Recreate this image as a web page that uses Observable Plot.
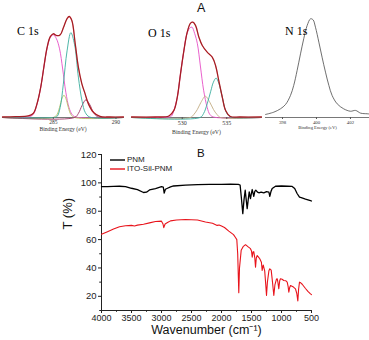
<!DOCTYPE html>
<html><head><meta charset="utf-8">
<script src="https://cdn.jsdelivr.net/npm/d3@7"></script>
<script src="https://cdn.jsdelivr.net/npm/@observablehq/plot@0.6"></script>
<style>
html,body{margin:0;padding:0;background:#fff;}
#fig{position:relative;width:369px;height:340px;overflow:hidden;font-family:"Liberation Sans",Arial,sans-serif;}
#fig svg{position:absolute;}
.lbl{position:absolute;line-height:1;white-space:nowrap;}
.serif{font-family:"Liberation Serif","Times New Roman",serif;}
</style></head><body><div id="fig"></div>
<script>
// ---------- Panel A: XPS (binding energy eV, intensity a.u.) ----------
const c1sEnvE = [280.95,282.0,283.0,283.4,283.7,284.0,284.25,284.5,284.76,285.0,285.29,285.56,285.82,286.09,286.27,286.48,286.75,287.0,287.28,287.54,287.8,288.2,288.73,289.5,290.6];
const c1sEnvI = [0.5,0.8,1.5,4,13.5,30,50,69,80,82.9,81,82,89.4,97.7,100,96,73,49.8,33.3,23.4,13.5,5.2,1,0.5,0.5];
const c1sPinkE = [280.95,283.0,283.4,283.7,284.0,284.25,284.5,284.75,285.0,285.25,285.5,285.75,286.0,286.25,286.5,286.8,290.6];
const c1sPinkI = [0,0.5,3,13,30,50,68,79,82,78,68,48,25,10,3,0.5,0];
const c1sTealE = [280.95,285.0,285.3,285.55,285.8,286.1,286.4,286.7,287.0,287.3,287.55,287.9,290.6];
const c1sTealI = [0,0,1,10,33,66,84,72,40,16,5,0.5,0];
const c1sGreenE = [280.95,285.0,285.3,285.5,285.7,285.85,286.0,286.2,286.4,286.7,290.6];
const c1sGreenI = [0,0,3,10,19,22,19,10,3,0,0];
const c1sMaroonE = [280.95,286.7,287.0,287.3,287.6,287.9,288.2,288.5,288.8,290.6];
const c1sMaroonI = [0,0,4,12,17.5,13,5,1,0,0];

const o1sEnvE = [524.3,527,528.5,529.06,529.44,529.8,530.18,530.56,530.93,531.2,531.5,531.87,532.25,532.8,533.37,533.74,534.1,534.5,534.87,535.4,536.5,538.9];
const o1sEnvI = [0.5,0.5,1.5,7,20,43,66,84.5,93.4,94.4,91,79.5,71.3,64.7,59.7,51.5,36.6,20,7,1,0.5,0.5];
const o1sPinkE = [524.3,528.5,528.8,529.06,529.44,529.8,530.18,530.56,530.9,531.1,531.4,531.7,532.05,532.4,532.8,533.1,533.5,538.9];
const o1sPinkI = [0,0.5,1.5,7,20,43,66,84,89,89.4,83,73,50,27,10,3,0.5,0];
const o1sOliveE = [524.3,530.9,531.3,531.7,532.1,532.6,533.1,533.5,533.9,534.3,538.9];
const o1sOliveI = [0,0,3,8,15,21,15,8,3,0,0];
const o1sTealE = [524.3,532.0,532.4,532.8,533.2,533.5,533.8,534.1,534.5,534.9,535.3,535.6,538.9];
const o1sTealI = [0,0,4,13.5,26,35,39,34,20,6,1,0,0];

const n1sE = [397.0,397.49,397.88,398.18,398.47,398.66,398.86,399.06,399.25,399.45,399.65,399.8,399.94,400.14,400.33,400.53,400.73,400.92,401.22,401.6,402.0,402.3,402.6,402.98,403.1];
const n1sI = [3,5.3,8.6,12.9,21.8,31.7,46.5,63,78,91,97.7,96.7,89.4,74.6,59.7,44.9,31.7,21.8,13.5,8.6,6.2,7,4.3,3.7,3.5];

const c1sTicks = [285, 290];
const o1sTicks = [530, 535];
const n1sTicks = [398, 400, 402];

// ---------- Panel B: FTIR ----------
const pnmWn = [4000,3900,3800,3700,3600,3500,3400,3300,3250,3200,3100,3000,2970,2955,2935,2900,2850,2800,2600,2400,2200,2000,1850,1720,1690,1670,1645,1625,1605,1588,1572,1555,1538,1517,1500,1488,1462,1445,1428,1400,1378,1340,1295,1250,1210,1195,1175,1155,1100,1000,900,822,780,740,700,683,600,517,500];
const pnmT  = [97.3,97.4,97.5,97.6,97.4,96.2,95.2,93.2,93.4,95.0,96.0,97.3,97.0,92.8,95.5,96.2,97.2,97.8,98.4,98.7,98.9,99.0,99.1,99.0,98.5,90,78.3,88,94.8,88,81.8,88,93.6,88.9,93,95.3,90.5,94,94.8,93.5,93,93.5,93,93.8,93.5,90.5,94,96,97.6,97.8,97.6,97.5,96,92.5,90,89.8,88.6,87.5,87.2];
const silWn = [4000,3900,3800,3700,3600,3500,3450,3400,3300,3200,3100,3000,2975,2962,2940,2900,2850,2750,2600,2400,2267,2150,2072,2040,2000,1950,1878,1800,1767,1745,1730,1712,1700,1672,1640,1600,1560,1517,1500,1488,1475,1462,1445,1433,1420,1405,1380,1362,1335,1322,1305,1280,1262,1250,1235,1210,1195,1172,1150,1128,1110,1085,1072,1060,1045,1030,1017,990,962,930,905,890,878,865,850,800,767,745,728,715,700,680,655,600,560,517,500];
const silT  = [63.7,65.6,67.5,69.0,69.8,70.0,69.6,70.2,70.8,71.8,72.8,73.0,71,68.4,71,72.0,73.2,73.8,74.2,73.8,72.4,71.5,70.0,70.3,69.5,68.5,66.0,63.5,61.5,60,50,22.5,40,52.4,55,56.4,55,53.6,52,47.6,51.2,51.5,47,40.6,47,48.8,47.5,46.5,44,38.2,42.1,38,28,20.6,30,38,39.4,38.5,30,20.6,28,32,32.4,30,25.3,31,32.4,32,31.2,31,30,27,22.9,26,27.6,26.5,25.3,22,16.8,25,30,29.5,28.5,25.5,23.5,21.7,21.2];
const irXTicks = [4000,3500,3000,2500,2000,1500,1000,500];
const irYTicks = [20,40,60,80,100,120];
const seriesNames = ["PNM","ITO-Sil-PNM"];

const fig = document.getElementById("fig");
const pts = (xs, ys) => xs.map((x, i) => ({x, y: ys[i]}));

function xps({left, width, domain, ticks, series, tickFont, titleFont, titleDy}) {
  const marks = [
    Plot.ruleY([0], {stroke: "#555", strokeWidth: 0.8}),
    ...series.map(s => Plot.line(pts(s.x, s.y), {x: "x", y: "y", stroke: s.color, strokeWidth: s.w || 0.9, strokeOpacity: s.o || 1, curve: "catmull-rom"})),
    Plot.axisX({ticks, tickSize: 2, tickPadding: 1, fontSize: tickFont, fill: "#333", stroke: "#555", tickFormat: d => String(d), label: null}),
    Plot.text(["Binding Energy (eV)"], {text: d => d, frameAnchor: "bottom", dy: titleDy, fontSize: titleFont, fill: "#333"})
  ];
  const svg = Plot.plot({
    width, height: 136, marginTop: 16, marginBottom: 19, marginLeft: 0, marginRight: 0,
    x: {domain}, y: {domain: [0, 100], axis: null},
    style: {position: "absolute", left: left + "px", top: "0px", background: "transparent", fontFamily: "Liberation Serif", overflow: "visible"},
    marks
  });
  fig.appendChild(svg);
}

const PINK = "#e64fc6", TEAL = "#3aae9e", RED = "#c8242c", DARK = "#3a1414";
xps({left: 2, width: 121, domain: [280.95, 290.6], ticks: c1sTicks, tickFont: 5.5, titleFont: 5.6, titleDy: 13,
  series: [
    {x: c1sPinkE, y: c1sPinkI, color: PINK},
    {x: c1sGreenE, y: c1sGreenI, color: "#b9c063"},
    {x: c1sMaroonE, y: c1sMaroonI, color: "#9c3562"},
    {x: c1sTealE, y: c1sTealI, color: TEAL},
    {x: c1sEnvE, y: c1sEnvI, color: RED, w: 1.3},
    {x: c1sEnvE, y: c1sEnvI, color: DARK, w: 0.5, o: 0.6}
  ]});
xps({left: 131, width: 130, domain: [524.3, 538.9], ticks: o1sTicks, tickFont: 6, titleFont: 5.8, titleDy: 16,
  series: [
    {x: o1sPinkE, y: o1sPinkI, color: PINK},
    {x: o1sOliveE, y: o1sOliveI, color: "#c2ab82"},
    {x: o1sTealE, y: o1sTealI, color: TEAL},
    {x: o1sEnvE, y: o1sEnvI, color: RED, w: 1.3},
    {x: o1sEnvE, y: o1sEnvI, color: DARK, w: 0.5, o: 0.6}
  ]});
xps({left: 265, width: 104, domain: [397.0, 403.12], ticks: n1sTicks, tickFont: 4.8, titleFont: 4.6, titleDy: 11,
  series: [
    {x: n1sE, y: n1sI, color: "#4a4a4a", w: 0.8}
  ]});

// ---------- IR plot ----------
const pnm = pts(pnmWn, pnmT), sil = pts(silWn, silT);
const ir = Plot.plot({
  width: 369, height: 200, marginLeft: 101, marginRight: 58, marginTop: 14, marginBottom: 30,
  x: {domain: [4000, 500]}, y: {domain: [10, 120]},
  style: {position: "absolute", left: "0px", top: "140px", background: "transparent", fontFamily: "Liberation Sans", color: "#222", overflow: "visible"},
  marks: [
    Plot.axisX({ticks: irXTicks, tickSize: 3, tickPadding: 1.5, fontSize: 9, tickFormat: d => String(d), label: null}),
    Plot.axisX({ticks: irXTicks.slice(1).map(d => d + 250), tickSize: 1.8, tickFormat: () => "", label: null}),
    Plot.axisY({ticks: irYTicks, tickSize: 3, tickPadding: 2, fontSize: 9.5, tickFormat: d => String(d), label: null}),
    Plot.axisY({ticks: irYTicks.map(d => d - 10), tickSize: 1.8, tickFormat: () => "", label: null}),
    Plot.ruleX([4000], {stroke: "#222"}),
    Plot.ruleY([10], {stroke: "#222"}),
    Plot.line(pnm, {x: "x", y: "y", stroke: "#000", strokeWidth: 1.3}),
    Plot.line(sil, {x: "x", y: "y", stroke: "#e8141c", strokeWidth: 1.1}),
    Plot.text(["Wavenumber (cm⁻¹)"], {text: d => d, frameAnchor: "bottom", dy: 23.5, fontSize: 12.5, fill: "#111"}),
    Plot.text(["T (%)"], {text: d => d, frameAnchor: "left", dx: -34, dy: -3, rotate: -90, fontSize: 13, fill: "#111"})
  ]
});
fig.appendChild(ir);

// ---------- labels & legend ----------
function label(txt, left, top, size, cls, extra) {
  const d = document.createElement("div");
  d.className = "lbl " + (cls || "");
  d.textContent = txt;
  d.style.left = left + "px"; d.style.top = top + "px"; d.style.fontSize = size + "px";
  Object.assign(d.style, extra || {});
  fig.appendChild(d);
  return d;
}
label("C 1s", 17, 25, 12, "serif");
label("O 1s", 148, 26.5, 12, "serif");
label("N 1s", 285, 25, 12, "serif");
label("A", 197, 1.5, 12.5, "", {color: "#111"});
label("B", 197, 147.5, 11.5, "", {color: "#111"});

const lg = document.createElement("div");
lg.style.cssText = "position:absolute;left:110px;top:155px;font-size:8px;line-height:9.3px;color:#222;";
const colors = ["#000", "#e8141c"];
seriesNames.forEach((n, i) => {
  const row = document.createElement("div");
  row.style.cssText = "display:flex;align-items:center;height:9.3px;";
  row.innerHTML = `<svg width="17" height="6" style="position:static"><line x1="0" x2="15" y1="3" y2="3" stroke="${colors[i]}" stroke-width="1.4"/></svg><span>${n}</span>`;
  lg.appendChild(row);
});
fig.appendChild(lg);
</script></body></html>
